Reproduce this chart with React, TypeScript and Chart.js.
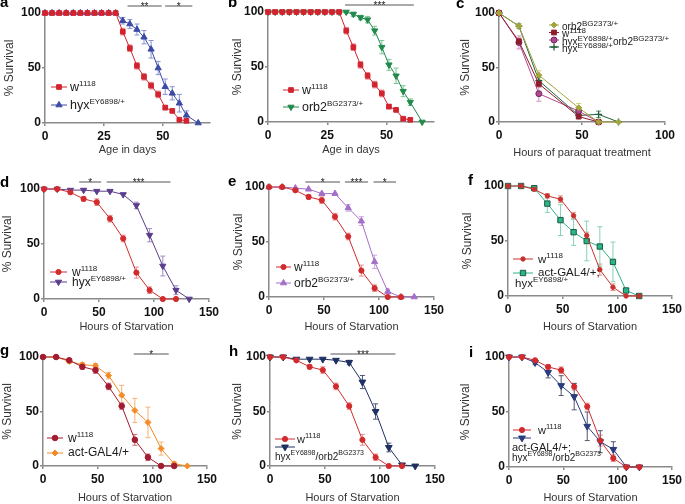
import React, { useEffect, useRef } from 'react';
import { Chart, registerables } from 'chart.js';

Chart.register(...registerables);

const FONT = "'Liberation Sans', Arial, Helvetica, sans-serif";

// ---------------- DATA ----------------
const survivalTicks = [0, 50, 100];
const ageTicks = [0, 25, 50];
const paraquatTicks = [0, 50, 100];
const starvTicks = [0, 50, 100, 150];

// panels a, b (lifespan)
const ageDaysW = [0, 3, 6, 9, 12, 15, 18, 21, 24, 27, 30, 33, 36, 39, 42, 45, 48, 51, 54, 57, 60];
const ageW1118 = [100, 100, 100, 100, 100, 100, 100, 100, 100, 100, 100, 83, 68, 52, 42, 34, 26, 14, 11, 3, 2];
const ageW1118Err = [0, 0, 0, 0, 0, 0, 0, 0, 0, 0, 0, 3, 3, 3, 3, 3, 3, 2, 1, 1, 1];
const ageDaysMut = [0, 3, 6, 9, 12, 15, 18, 21, 24, 27, 30, 33, 36, 39, 42, 45, 48, 51, 54, 57, 60, 65];
const ageHyx = [100, 100, 100, 100, 100, 100, 100, 100, 100, 100, 100, 93, 90, 85, 78, 67, 50, 33, 27, 18, 7, 0];
const ageHyxErr = [0, 0, 0, 0, 0, 0, 0, 0, 0, 0, 0, 3, 4, 5, 6, 8, 6, 7, 6, 8, 4, 0];
const ageOrb2 = [100, 100, 100, 100, 100, 100, 100, 100, 100, 100, 100, 100, 98, 95, 93, 83, 68, 52, 42, 28, 18, 0];
const ageOrb2Err = [0, 0, 0, 0, 0, 0, 0, 0, 0, 0, 0, 1, 2, 2, 3, 4, 6, 5, 7, 5, 3, 0];

// panel c (paraquat)
const pqHours = [0, 12, 24, 48, 60, 72];
const pqOrb2 = [100, 88, 43, 13, 0, 0];
const pqOrb2Err = [0, 2, 4, 4, 0, 0];
const pqW1118 = [100, 74, 35, 5, 0];
const pqW1118Err = [0, 3, 3, 2, 0];
const pqDouble = [100, 73, 26, 10, 0];
const pqDoubleErr = [0, 6, 7, 3, 0];
const pqHyx = [100, 88, 38, 6, 7, 0];
const pqHyxErr = [0, 2, 3, 2, 3, 0];

// panels d-i (starvation)
const starvHours = [0, 12, 24, 36, 48, 60, 72, 84, 96, 108, 120, 132];
const stW1118 = [100, 100, 97, 91, 88, 73, 55, 24, 8, 0, 0];
const stW1118Err = [0, 0, 1, 2, 3, 3, 3, 5, 3, 0, 0];
const stHyx = [100, 100, 99, 99, 98, 98, 95, 85, 58, 30, 8, 0];
const stHyxErr = [0, 0, 0, 0, 0, 0, 0, 3, 6, 9, 4, 0];
const stOrb2 = [100, 100, 99, 98, 94, 94, 81, 69, 32, 5, 0, 0];
const stOrb2Err = [0, 0, 0, 0, 0, 0, 3, 4, 6, 2, 0, 0];
const stActHyx = [100, 100, 98, 84, 69, 58, 50, 45, 31, 5, 0];
const stActHyxErr = [0, 0, 1, 8, 14, 12, 18, 18, 18, 2, 0];
const stAct = [100, 100, 96, 93, 92, 83, 65, 51, 40, 16, 2, 0];
const stActErr = [0, 0, 2, 2, 2, 3, 9, 11, 14, 6, 2, 0];
const stTrans = [100, 100, 98, 98, 98, 97, 95, 77, 50, 17, 1, 0];
const stTransErr = [0, 0, 0, 0, 0, 0, 2, 6, 7, 4, 1, 0];
const stActTrans = [100, 100, 95, 86, 74, 64, 37, 23, 16, 0, 0];
const stActTransErr = [0, 0, 2, 5, 9, 12, 13, 10, 7, 0, 0];

// significance bars
const sigA = [{ from: 35, to: 49.5, label: '**' }, { from: 51, to: 62.5, label: '*' }];
const sigB = [{ from: 32.5, to: 61.5, label: '***' }];
const sigD = [{ from: 32, to: 52, label: '*' }, { from: 57, to: 115, label: '***' }];
const sigE = [{ from: 33, to: 64.5, label: '*' }, { from: 69, to: 90, label: '***' }, { from: 95, to: 115.5, label: '*' }];
const sigG = [{ from: 83, to: 115, label: '*' }];
const sigH = [{ from: 55, to: 114, label: '***' }];

// legend labels: [text, superscript?]
type Part = [string, boolean?];
const L_W: Part[] = [['w'], ['1118', true]];
const L_HYX: Part[] = [['hyx'], ['EY6898/+', true]];
const L_ORB2: Part[] = [['orb2'], ['BG2373/+', true]];
const L_DOUBLE: Part[] = [['hyx'], ['EY6898/+', true], ['orb2'], ['BG2373/+', true]];
const L_ACT: Part[] = [['act-GAL4/+']];
const L_ACT2: Part[] = [['act-GAL4/+;']];
const L_TRANS: Part[] = [['hyx'], ['EY6898', true], ['/orb2'], ['BG2373', true]];

// ---------------- STYLE / HELPERS ----------------
type Sty = { color: string; err: string; style: string; r: number; rot?: number; border?: string; bw?: number };

function mk(xs: number[], ys: number[], errs: number[], s: Sty) {
  return {
    data: ys.map((y, i) => ({ x: xs[i], y })),
    errors: errs,
    errColor: s.err,
    borderColor: s.color,
    backgroundColor: s.color,
    borderWidth: 1,
    pointStyle: s.style,
    pointRadius: s.r,
    pointRotation: s.rot || 0,
    pointBackgroundColor: s.color,
    pointBorderColor: s.border || s.color,
    pointBorderWidth: s.bw || 1,
    markerStyle: s,
    tension: 0,
    fill: false,
    clip: false,
  };
}

function drawMarker(ctx: CanvasRenderingContext2D, s: Sty, x: number, y: number) {
  const r = s.r;
  let rad = ((s.rot || 0) * Math.PI) / 180;
  ctx.save();
  ctx.fillStyle = s.color;
  ctx.strokeStyle = s.border || s.color;
  ctx.lineWidth = s.bw || 1;
  ctx.beginPath();
  if (s.style === 'rect') {
    const h = r * Math.SQRT1_2;
    ctx.rect(x - h, y - h, 2 * h, 2 * h);
  } else if (s.style === 'circle') {
    ctx.arc(x, y, r, 0, Math.PI * 2);
  } else if (s.style === 'triangle') {
    for (let k = 0; k < 3; k++) {
      const px = x + Math.sin(rad) * r;
      const py = y - Math.cos(rad) * r;
      if (k === 0) ctx.moveTo(px, py); else ctx.lineTo(px, py);
      rad += (2 * Math.PI) / 3;
    }
    ctx.closePath();
  } else if (s.style === 'rectRot') {
    ctx.moveTo(x - r, y); ctx.lineTo(x, y - r); ctx.lineTo(x + r, y); ctx.lineTo(x, y + r);
    ctx.closePath();
  } else if (s.style === 'cross') {
    ctx.moveTo(x, y - r); ctx.lineTo(x, y + r); ctx.moveTo(x - r, y); ctx.lineTo(x + r, y);
    ctx.stroke();
    ctx.restore();
    return;
  }
  ctx.fill();
  ctx.stroke();
  ctx.restore();
}

const RED_SQ: Sty = { color: '#d2232f', err: '#e8868c', style: 'rect', r: 3.3 };
const BLUE_TRI: Sty = { color: '#3b4ba6', err: '#8592d2', style: 'triangle', r: 3.6 };
const GREEN_TRI: Sty = { color: '#218a4b', err: '#7cc495', style: 'triangle', rot: 180, r: 3.6 };
const C_OLIVE: Sty = { color: '#a3a43b', err: '#cfcf80', style: 'rectRot', r: 3 };
const C_RED: Sty = { color: '#8f1d2d', err: '#c46a76', style: 'rect', r: 3.4 };
const C_MAG: Sty = { color: '#b1468e', err: '#d68fc4', style: 'circle', r: 3, border: '#6e2a5f' };
const C_GREEN: Sty = { color: '#22613b', err: '#5f9c74', style: 'cross', r: 3.5, bw: 1.3 };
const RED_C: Sty = { color: '#d22b2e', err: '#ec8c8c', style: 'circle', r: 2.6 };
const PURPLE_TRI: Sty = { color: '#5b3d8c', err: '#a08ac6', style: 'triangle', rot: 180, r: 3.6 };
const LILAC_TRI: Sty = { color: '#a36fc8', err: '#c8a6e0', style: 'triangle', r: 3.6 };
const RED_F: Sty = { color: '#c8322e', err: '#e49090', style: 'circle', r: 2.2 };
const TEAL_SQ: Sty = { color: '#2bb389', err: '#86d2b4', style: 'rect', r: 3.8, border: '#1c5a44' };
const CRIMSON_C: Sty = { color: '#a31b30', err: '#cc6a78', style: 'circle', r: 2.8 };
const ORANGE_D: Sty = { color: '#f28c28', err: '#f7b374', style: 'rectRot', r: 3 };
const NAVY_H: Sty = { color: '#1e3062', err: '#4a5577', style: 'triangle', rot: 180, r: 3.9 };
const NAVY_I: Sty = { color: '#2b3b7d', err: '#55596e', style: 'triangle', rot: 180, r: 3.9 };

type LegendLine = { x: number; y: number; parts: Part[]; size?: number; sup?: number };
type LegendEntry = { ds: number; y: number; lines: LegendLine[] };
type Legend = { lx0: number; lx1: number; size: number; sup: number; entries: LegendEntry[] };
type Panel = {
  letter: string; lx: number; ly: number;
  area: { l: number; r: number; t: number; b: number };
  yTitleX: number; xTitleY: number;
  xMax: number; xTicks: number[]; xTitle: string;
  datasets: any[]; legend: Legend; sig: { from: number; to: number; label: string }[]; sigOffset: number;
};

const PANELS: Panel[] = [
  {
    letter: 'a', lx: 0, ly: 3, area: { l: 45, r: 210, t: 13, b: 123 }, yTitleX: 10, xTitleY: 150,
    xMax: 70, xTicks: ageTicks, xTitle: 'Age in days',
    datasets: [mk(ageDaysW, ageW1118, ageW1118Err, RED_SQ), mk(ageDaysMut, ageHyx, ageHyxErr, BLUE_TRI)],
    legend: { lx0: 6, lx1: 22, size: 12.5, sup: 8, entries: [
      { ds: 0, y: 74, lines: [{ x: 25, y: 75, parts: L_W }] },
      { ds: 1, y: 92, lines: [{ x: 25, y: 93, parts: L_HYX }] },
    ] },
    sig: sigA, sigOffset: 7,
  },
  {
    letter: 'b', lx: 228, ly: 3, area: { l: 268, r: 434, t: 12, b: 122 }, yTitleX: 238, xTitleY: 150,
    xMax: 70, xTicks: ageTicks, xTitle: 'Age in days',
    datasets: [mk(ageDaysW, ageW1118, ageW1118Err, RED_SQ), mk(ageDaysMut, ageOrb2, ageOrb2Err, GREEN_TRI)],
    legend: { lx0: 15, lx1: 31, size: 12.5, sup: 8, entries: [
      { ds: 0, y: 78, lines: [{ x: 34, y: 79, parts: L_W }] },
      { ds: 1, y: 95, lines: [{ x: 34, y: 96, parts: L_ORB2 }] },
    ] },
    sig: sigB, sigOffset: 7,
  },
  {
    letter: 'c', lx: 456, ly: 4, area: { l: 499, r: 665, t: 13, b: 122 }, yTitleX: 466, xTitleY: 153,
    xMax: 100, xTicks: paraquatTicks, xTitle: 'Hours of paraquat treatment',
    datasets: [
      mk(pqHours, pqOrb2, pqOrb2Err, C_OLIVE),
      mk(pqHours, pqW1118, pqW1118Err, C_RED),
      mk(pqHours, pqDouble, pqDoubleErr, C_MAG),
      mk(pqHours, pqHyx, pqHyxErr, C_GREEN),
    ],
    legend: { lx0: 50, lx1: 60, size: 10, sup: 8, entries: [
      { ds: 0, y: 12, lines: [{ x: 63, y: 14, parts: L_ORB2 }] },
      { ds: 1, y: 19.5, lines: [{ x: 63, y: 21.5, parts: L_W }] },
      { ds: 2, y: 27, lines: [{ x: 63, y: 29, parts: L_DOUBLE }] },
      { ds: 3, y: 34, lines: [{ x: 63, y: 36, parts: L_HYX }] },
    ] },
    sig: [], sigOffset: 0,
  },
  {
    letter: 'd', lx: 0, ly: 183, area: { l: 44, r: 209, t: 189, b: 299 }, yTitleX: 8, xTitleY: 327,
    xMax: 150, xTicks: starvTicks, xTitle: 'Hours of Starvation',
    datasets: [mk(starvHours, stW1118, stW1118Err, RED_C), mk(starvHours, stHyx, stHyxErr, PURPLE_TRI)],
    legend: { lx0: 6, lx1: 23, size: 12, sup: 8, entries: [
      { ds: 0, y: 83, lines: [{ x: 28, y: 84, parts: L_W }] },
      { ds: 1, y: 93, lines: [{ x: 28, y: 94, parts: L_HYX }] },
    ] },
    sig: sigD, sigOffset: 7,
  },
  {
    letter: 'e', lx: 228, ly: 182, area: { l: 269, r: 434, t: 187, b: 297 }, yTitleX: 239, xTitleY: 327,
    xMax: 150, xTicks: starvTicks, xTitle: 'Hours of Starvation',
    datasets: [mk(starvHours, stW1118, stW1118Err, RED_C), mk(starvHours, stOrb2, stOrb2Err, LILAC_TRI)],
    legend: { lx0: 7, lx1: 22, size: 12, sup: 8, entries: [
      { ds: 0, y: 80, lines: [{ x: 25, y: 81, parts: L_W }] },
      { ds: 1, y: 96, lines: [{ x: 25, y: 97, parts: L_ORB2 }] },
    ] },
    sig: sigE, sigOffset: 5,
  },
  {
    letter: 'f', lx: 468, ly: 181, area: { l: 508, r: 673, t: 186, b: 296 }, yTitleX: 468, xTitleY: 327,
    xMax: 150, xTicks: starvTicks, xTitle: 'Hours of Starvation',
    datasets: [mk(starvHours, stW1118, stW1118Err, RED_F), mk(starvHours, stActHyx, stActHyxErr, TEAL_SQ)],
    legend: { lx0: 5, lx1: 25, size: 11.5, sup: 8, entries: [
      { ds: 0, y: 73, lines: [{ x: 30, y: 74, parts: L_W }] },
      { ds: 1, y: 87, lines: [{ x: 30, y: 87, parts: L_ACT2 }, { x: 7, y: 97.5, parts: L_HYX }] },
    ] },
    sig: [], sigOffset: 0,
  },
  {
    letter: 'g', lx: 0, ly: 351, area: { l: 43, r: 207, t: 357, b: 466 }, yTitleX: 8, xTitleY: 498,
    xMax: 150, xTicks: starvTicks, xTitle: 'Hours of Starvation',
    datasets: [mk(starvHours, stW1118, stW1118Err, CRIMSON_C), mk(starvHours, stAct, stActErr, ORANGE_D)],
    legend: { lx0: 4, lx1: 20, size: 12, sup: 8, entries: [
      { ds: 0, y: 81, lines: [{ x: 25, y: 82, parts: L_W }] },
      { ds: 1, y: 96, lines: [{ x: 25, y: 96, parts: L_ACT }] },
    ] },
    sig: sigG, sigOffset: 3,
  },
  {
    letter: 'h', lx: 229, ly: 352, area: { l: 270, r: 435, t: 357, b: 466 }, yTitleX: 238, xTitleY: 498,
    xMax: 150, xTicks: starvTicks, xTitle: 'Hours of Starvation',
    datasets: [mk(starvHours, stW1118, stW1118Err, RED_C), mk(starvHours, stTrans, stTransErr, NAVY_H)],
    legend: { lx0: 5, lx1: 25, size: 11, sup: 7.5, entries: [
      { ds: 0, y: 82, lines: [{ x: 27, y: 83, parts: L_W }] },
      { ds: 1, y: 90, lines: [{ x: 5, y: 100, parts: L_TRANS, size: 10, sup: 7 }] },
    ] },
    sig: sigH, sigOffset: 3,
  },
  {
    letter: 'i', lx: 469, ly: 353, area: { l: 509, r: 673, t: 357, b: 467 }, yTitleX: 466, xTitleY: 498,
    xMax: 150, xTicks: starvTicks, xTitle: 'Hours of Starvation',
    datasets: [mk(starvHours, stW1118, stW1118Err, RED_C), mk(starvHours, stActTrans, stActTransErr, NAVY_I)],
    legend: { lx0: 4, lx1: 22, size: 11, sup: 7.5, entries: [
      { ds: 0, y: 73, lines: [{ x: 29, y: 74, parts: L_W }] },
      { ds: 1, y: 81, lines: [{ x: 3, y: 91, parts: L_ACT2 }, { x: 3, y: 101, parts: L_TRANS, size: 10, sup: 7 }] },
    ] },
    sig: [], sigOffset: 0,
  },
];

// ---------------- CHART ----------------
const CW = 685;
const CH = 504;

function makeChart(canvas: HTMLCanvasElement, p: Panel) {
  const yTitleSize = 12;
  const yLH = yTitleSize * 1.2;
  const xTitleSize = 11;
  const xLH = xTitleSize;
  const padLeft = p.yTitleX - yLH / 2;
  const yAxisW = p.area.l - padLeft;
  const scaleBottom = p.xTitleY + xLH / 2;
  const xAxisH = scaleBottom - p.area.b;

  const decor = {
    id: 'decor' + p.letter,
    beforeDatasetsDraw(chart: any) {
      const ctx = chart.ctx as CanvasRenderingContext2D;
      const ys = chart.scales.y;
      chart.data.datasets.forEach((d: any, i: number) => {
        const meta = chart.getDatasetMeta(i);
        ctx.save();
        ctx.strokeStyle = d.errColor;
        ctx.lineWidth = 1;
        meta.data.forEach((pt: any, j: number) => {
          const e = d.errors[j];
          if (!e) return;
          const v = d.data[j].y;
          const y1 = ys.getPixelForValue(v + e);
          const y2 = ys.getPixelForValue(Math.max(0, v - e));
          const x = pt.x;
          const cap = 2.5;
          ctx.beginPath();
          ctx.moveTo(x, y1); ctx.lineTo(x, y2);
          ctx.moveTo(x - cap, y1); ctx.lineTo(x + cap, y1);
          ctx.moveTo(x - cap, y2); ctx.lineTo(x + cap, y2);
          ctx.stroke();
        });
        ctx.restore();
      });
    },
    afterDraw(chart: any) {
      const ctx = chart.ctx as CanvasRenderingContext2D;
      const area = chart.chartArea;
      const xs = chart.scales.x;
      ctx.save();
      // significance bars
      const sy = area.top - p.sigOffset;
      p.sig.forEach((s) => {
        const x1 = xs.getPixelForValue(s.from);
        const x2 = xs.getPixelForValue(s.to);
        ctx.strokeStyle = '#555';
        ctx.lineWidth = 1;
        ctx.beginPath(); ctx.moveTo(x1, sy); ctx.lineTo(x2, sy); ctx.stroke();
        ctx.fillStyle = '#222';
        ctx.font = `10px ${FONT}`;
        ctx.textAlign = 'center';
        ctx.textBaseline = 'alphabetic';
        ctx.fillText(s.label, (x1 + x2) / 2, sy + 3.5);
      });
      // legend
      const lg = p.legend;
      lg.entries.forEach((en) => {
        const d = chart.data.datasets[en.ds];
        const y = area.top + en.y;
        const x0 = area.left + lg.lx0;
        const x1 = area.left + lg.lx1;
        ctx.strokeStyle = d.borderColor;
        ctx.lineWidth = 1;
        ctx.beginPath(); ctx.moveTo(x0, y); ctx.lineTo(x1, y); ctx.stroke();
        drawMarker(ctx, d.markerStyle, (x0 + x1) / 2, y);
        en.lines.forEach((ln) => {
          const size = ln.size || lg.size;
          const sup = ln.sup || lg.sup;
          let cx = area.left + ln.x;
          const cy = area.top + ln.y;
          ctx.fillStyle = '#1a1a1a';
          ctx.textAlign = 'left';
          ctx.textBaseline = 'middle';
          ln.parts.forEach(([t, isSup]) => {
            ctx.font = `${isSup ? sup : size}px ${FONT}`;
            ctx.fillText(t, cx, isSup ? cy - size * 0.36 : cy);
            cx += ctx.measureText(t).width;
          });
        });
      });
      // panel letter
      ctx.fillStyle = '#000';
      ctx.font = `bold 15px ${FONT}`;
      ctx.textAlign = 'left';
      ctx.textBaseline = 'middle';
      ctx.fillText(p.letter, p.lx, p.ly);
      ctx.restore();
    },
  };

  const axisColor = '#8a8a8a';
  const tickFont = { family: FONT, size: 12, weight: 'bold' as const };

  return new Chart(canvas, {
    type: 'line',
    data: { datasets: p.datasets as any },
    options: {
      responsive: false,
      animation: false,
      events: [],
      layout: { padding: { left: padLeft, right: CW - p.area.r, top: p.area.t, bottom: CH - scaleBottom } },
      plugins: { legend: { display: false }, tooltip: { enabled: false } },
      scales: {
        x: {
          type: 'linear',
          min: 0,
          max: p.xMax,
          afterBuildTicks: (axis: any) => { axis.ticks = p.xTicks.map((v) => ({ value: v })); },
          afterFit: (axis: any) => { axis.height = xAxisH; },
          grid: { display: true, drawOnChartArea: false, drawTicks: true, tickLength: 3, color: axisColor, lineWidth: 1.5 },
          border: { display: true, color: axisColor, width: 1.5 },
          ticks: { font: tickFont, color: '#111', padding: 3, maxRotation: 0, autoSkip: false },
          title: { display: true, text: p.xTitle, color: '#333', padding: 0, font: { family: FONT, size: xTitleSize, lineHeight: 1 } },
        },
        y: {
          type: 'linear',
          min: 0,
          max: 100,
          afterBuildTicks: (axis: any) => { axis.ticks = survivalTicks.map((v) => ({ value: v })); },
          afterFit: (axis: any) => { axis.width = yAxisW; },
          grid: { display: true, drawOnChartArea: false, drawTicks: true, tickLength: 3, color: axisColor, lineWidth: 1.5 },
          border: { display: true, color: axisColor, width: 1.5 },
          ticks: { font: tickFont, color: '#111', padding: 1, autoSkip: false },
          title: { display: true, text: '% Survival', color: '#333', padding: 0, font: { family: FONT, size: yTitleSize } },
        },
      },
    },
    plugins: [decor],
  } as any);
}

function PanelChart({ p }: { p: Panel }) {
  const ref = useRef<HTMLCanvasElement>(null);
  useEffect(() => {
    const chart = makeChart(ref.current!, p);
    return () => chart.destroy();
  }, [p]);
  return (
    <canvas
      ref={ref}
      width={CW}
      height={CH}
      style={{ position: 'absolute', left: 0, top: 0, width: CW, height: CH }}
    />
  );
}

export default function App() {
  return (
    <div style={{ position: 'fixed', left: 0, top: 0, width: CW, height: CH, background: '#fff', overflow: 'hidden' }}>
      {PANELS.map((p) => (
        <PanelChart key={p.letter} p={p} />
      ))}
    </div>
  );
}
